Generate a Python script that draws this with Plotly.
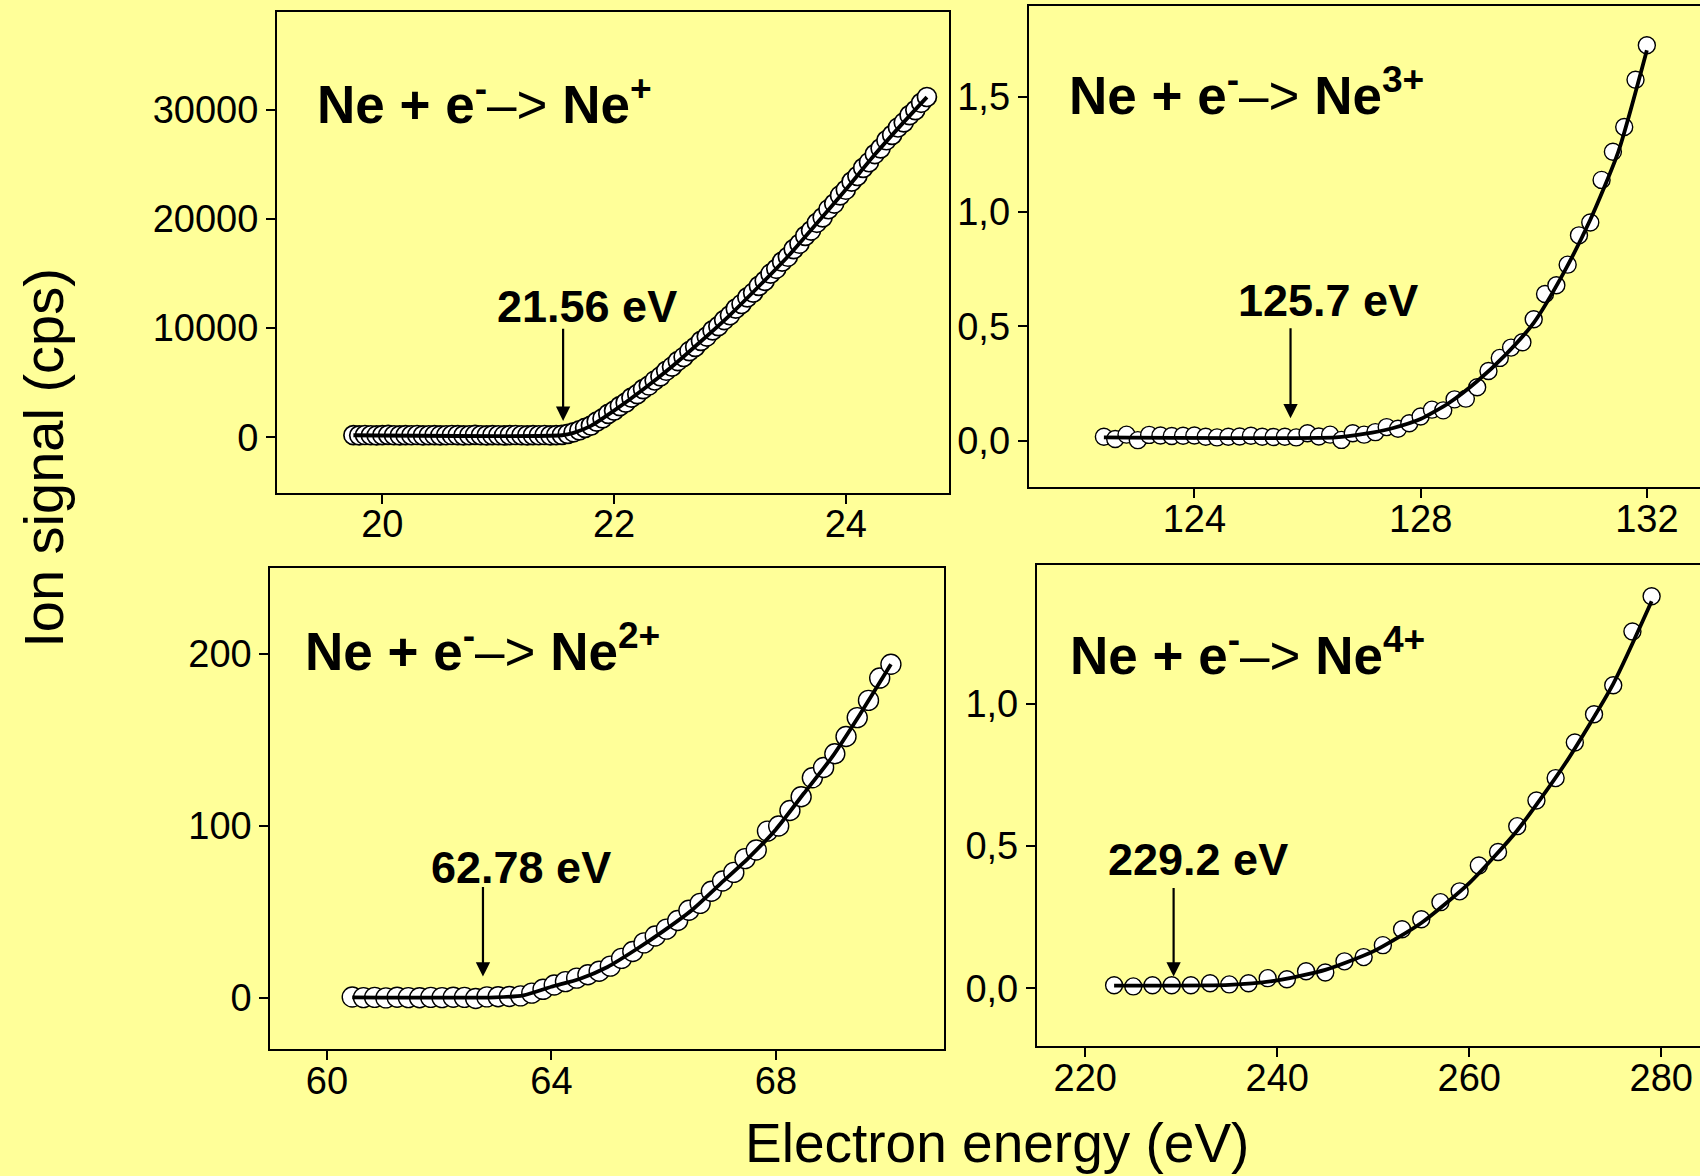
import plotly.graph_objects as go

# ---------------- data ----------------
# Ne + e- -> Ne+
ne1_energy = [19.75, 19.80, 19.85, 19.90, 19.95, 20.00, 20.05, 20.10, 20.15, 20.20,
              20.25, 20.30, 20.35, 20.40, 20.45, 20.50, 20.55, 20.60, 20.65, 20.70,
              20.75, 20.80, 20.85, 20.90, 20.95, 21.00, 21.05, 21.10, 21.15, 21.20,
              21.25, 21.30, 21.35, 21.40, 21.45, 21.50, 21.55, 21.60, 21.65, 21.70,
              21.75, 21.80, 21.85, 21.90, 21.95, 22.00, 22.05, 22.10, 22.15, 22.20,
              22.25, 22.30, 22.35, 22.40, 22.45, 22.50, 22.55, 22.60, 22.65, 22.70,
              22.75, 22.80, 22.85, 22.90, 22.95, 23.00, 23.05, 23.10, 23.15, 23.20,
              23.25, 23.30, 23.35, 23.40, 23.45, 23.50, 23.55, 23.60, 23.65, 23.70,
              23.75, 23.80, 23.85, 23.90, 23.95, 24.00, 24.05, 24.10, 24.15, 24.20,
              24.25, 24.30, 24.35, 24.40, 24.45, 24.50, 24.55, 24.60, 24.65, 24.70]
ne1_signal = [210, 190, 220, 200, 180, 210, 230, 200, 190, 210,
              200, 220, 190, 200, 210, 180, 200, 220, 210, 190,
              200, 230, 200, 190, 210, 200, 180, 210, 220, 200,
              190, 210, 200, 220, 190, 210, 230, 320, 470, 640,
              870, 1080, 1450, 1740, 2150, 2450, 2870, 3180, 3640, 3960,
              4420, 4750, 5210, 5580, 6100, 6470, 6990, 7360, 7890, 8280,
              8830, 9230, 9790, 10180, 10740, 11180, 11780, 12210, 12820, 13240,
              13870, 14330, 14980, 15430, 16080, 16530, 17230, 17720, 18440, 18930,
              19640, 20140, 20880, 21400, 22140, 22660, 23400, 23920, 24660, 25180,
              25930, 26450, 27190, 27680, 28360, 28820, 29490, 29950, 30620, 31150]
ne1_fit_energy = [19.75, 21.55, 21.65, 21.80, 22.00, 22.25, 22.50, 22.75, 23.00,
                  23.25, 23.50, 23.75, 24.00, 24.25, 24.50, 24.70]
ne1_fit_signal = [200, 200, 420, 1060, 2450, 4380, 6490, 8800, 11200,
                  13830, 16560, 19600, 22680, 25880, 28850, 31140]

# Ne + e- -> Ne2+
ne2_energy = [60.45, 60.65, 60.85, 61.05, 61.25, 61.45, 61.65, 61.85, 62.05, 62.25,
              62.45, 62.65, 62.85, 63.05, 63.25, 63.45, 63.65, 63.85, 64.05, 64.25,
              64.45, 64.65, 64.85, 65.05, 65.25, 65.45, 65.65, 65.85, 66.05, 66.25,
              66.45, 66.65, 66.85, 67.05, 67.25, 67.45, 67.65, 67.85, 68.05, 68.25,
              68.45, 68.65, 68.85, 69.05, 69.25, 69.45, 69.65, 69.85, 70.05]
ne2_signal = [0.5, 0.2, 0.3, 0.0, 0.4, 0.2, 0.1, 0.3, 0.2, 0.4,
              0.3, -0.3, 0.6, 0.7, 0.8, 1.2, 2.8, 5.0, 7.5, 9.5,
              11.5, 13.5, 15.5, 18.5, 23.0, 27.0, 32.0, 36.0, 40.0, 45.0,
              51.0, 55.0, 62.0, 68.0, 73.0, 81.0, 86.0, 97.0, 100.0, 109.0,
              117.0, 128.0, 134.0, 142.0, 152.0, 163.0, 173.0, 186.0, 194.0]
ne2_fit_energy = [60.45, 63.0, 63.5, 64.0, 64.5, 65.0, 65.5, 66.0, 66.5, 67.0,
                  67.5, 68.0, 68.5, 69.0, 69.5, 70.05]
ne2_fit_signal = [0.3, 0.3, 1.5, 6.5, 11.0, 18.0, 28.0, 39.0, 51.0, 66.0,
                  81.0, 98.0, 119.0, 140.0, 165.0, 194.0]

# Ne + e- -> Ne3+
ne3_energy = [122.4, 122.6, 122.8, 123.0, 123.2, 123.4, 123.6, 123.8, 124.0, 124.2,
              124.4, 124.6, 124.8, 125.0, 125.2, 125.4, 125.6, 125.8, 126.0, 126.2,
              126.4, 126.6, 126.8, 127.0, 127.2, 127.4, 127.6, 127.8, 128.0, 128.2,
              128.4, 128.6, 128.8, 129.0, 129.2, 129.4, 129.6, 129.8, 130.0, 130.2,
              130.4, 130.6, 130.8, 131.0, 131.2, 131.4, 131.6, 131.8, 132.0]
ne3_signal = [0.018, 0.008, 0.027, 0.003, 0.026, 0.023, 0.021, 0.022, 0.023, 0.018,
              0.015, 0.018, 0.019, 0.022, 0.018, 0.017, 0.018, 0.015, 0.033, 0.019,
              0.027, 0.004, 0.033, 0.027, 0.038, 0.060, 0.053, 0.077, 0.106, 0.136,
              0.133, 0.181, 0.184, 0.234, 0.305, 0.362, 0.407, 0.430, 0.531, 0.641,
              0.679, 0.769, 0.897, 0.953, 1.139, 1.262, 1.370, 1.576, 1.727]
ne3_fit_energy = [122.4, 126.5, 127.0, 127.5, 128.0, 128.5, 129.0, 129.5, 130.0,
                  130.5, 131.0, 131.5, 132.0]
ne3_fit_signal = [0.015, 0.015, 0.030, 0.055, 0.095, 0.165, 0.260, 0.375, 0.515,
                  0.720, 0.965, 1.265, 1.705]

# Ne + e- -> Ne4+
ne4_energy = [223, 225, 227, 229, 231, 233, 235, 237, 239, 241,
              243, 245, 247, 249, 251, 253, 255, 257, 259, 261,
              263, 265, 267, 269, 271, 273, 275, 277, 279]
ne4_signal = [0.011, 0.007, 0.011, 0.011, 0.011, 0.018, 0.014, 0.018, 0.036, 0.032,
              0.060, 0.056, 0.095, 0.110, 0.152, 0.208, 0.243, 0.303, 0.341, 0.432,
              0.479, 0.570, 0.660, 0.739, 0.864, 0.963, 1.065, 1.254, 1.378]
ne4_fit_energy = [223, 235, 240, 245, 250, 255, 260, 265, 270, 275, 279]
ne4_fit_signal = [0.010, 0.012, 0.028, 0.065, 0.130, 0.230, 0.370, 0.555, 0.790,
                  1.070, 1.360]

# appearance thresholds (eV)
thresholds = [21.56, 62.78, 125.7, 229.2]
threshold_labels = ["21.56 eV", "62.78 eV", "125.7 eV", "229.2 eV"]

# tick values / labels
x1_ticks = [20, 22, 24]
y1_ticks = [0, 10000, 20000, 30000]
y1_text = ["0", "10000", "20000", "30000"]
x2_ticks = [124, 128, 132]
y2_ticks = [0.0, 0.5, 1.0, 1.5]
y2_text = ["0,0", "0,5", "1,0", "1,5"]
x3_ticks = [60, 64, 68]
y3_ticks = [0, 100, 200]
x4_ticks = [220, 240, 260, 280]
y4_ticks = [0.0, 0.5, 1.0]
y4_text = ["0,0", "0,5", "1,0"]

# ---------------- styling ----------------
BG = "#FFFF99"
FONT = "Liberation Sans, Arial, Helvetica, sans-serif"
TICK_FONT = dict(family=FONT, size=38, color="black")

fig = go.Figure()


def add_panel(xa, ya, ex, sig, fx, fs, msize, mline):
    fig.add_trace(go.Scatter(
        x=ex, y=sig, mode="markers", xaxis=xa, yaxis=ya,
        marker=dict(symbol="circle", size=msize, color="white",
                    line=dict(color="black", width=mline)),
        showlegend=False, hoverinfo="skip"))
    fig.add_trace(go.Scatter(
        x=fx, y=fs, mode="lines", xaxis=xa, yaxis=ya,
        line=dict(color="black", width=3.8, shape="spline", smoothing=0.6),
        showlegend=False, hoverinfo="skip"))


add_panel("x", "y", ne1_energy, ne1_signal, ne1_fit_energy, ne1_fit_signal, 19, 1.7)
add_panel("x2", "y2", ne3_energy, ne3_signal, ne3_fit_energy, ne3_fit_signal, 17, 1.4)
add_panel("x3", "y3", ne2_energy, ne2_signal, ne2_fit_energy, ne2_fit_signal, 20, 1.4)
add_panel("x4", "y4", ne4_energy, ne4_signal, ne4_fit_energy, ne4_fit_signal, 17, 1.4)


def xaxis(domain, rng, ticks, anchor):
    return dict(domain=domain, range=rng, anchor=anchor, tickvals=ticks,
                ticktext=[str(t) for t in ticks], showline=True, linecolor="black",
                linewidth=2, mirror=True, ticks="outside", ticklen=9, tickwidth=2,
                tickcolor="black", showgrid=False, zeroline=False, tickfont=TICK_FONT,
                ticklabelstandoff=-12)


def yaxis(domain, rng, ticks, text, anchor, mirror):
    return dict(domain=domain, range=rng, anchor=anchor, tickvals=ticks,
                ticktext=text, showline=True, linecolor="black", linewidth=2,
                mirror=mirror, ticks="outside", ticklen=9, tickwidth=2,
                tickcolor="black", showgrid=False, zeroline=False, tickfont=TICK_FONT)


fig.update_layout(
    width=1700, height=1176,
    margin=dict(l=0, r=0, t=0, b=0),
    paper_bgcolor=BG, plot_bgcolor=BG,
    xaxis=xaxis([0.1629, 0.5582], [19.09, 24.89], x1_ticks, "y"),
    yaxis=yaxis([0.5812, 0.9902], [-5040, 38970], y1_ticks, y1_text, "x", True),
    xaxis2=xaxis([0.6051, 1.0], [121.07, 132.94], x2_ticks, "y2"),
    yaxis2=yaxis([0.5856, 0.9947], [-0.203, 1.897], y2_ticks, y2_text, "x2", False),
    xaxis3=xaxis([0.1590, 0.5551], [58.99, 70.99], x3_ticks, "y3"),
    yaxis3=yaxis([0.1080, 0.5170], [-29.7, 250], y3_ticks,
                 [str(t) for t in y3_ticks], "x3", True),
    xaxis4=xaxis([0.6099, 1.0], [214.95, 284.04], x4_ticks, "y4"),
    yaxis4=yaxis([0.1104, 0.5194], [-0.203, 1.487], y4_ticks, y4_text, "x4", False),
)

annotations = []

# reaction titles
reactions = [("+", 0.1853, 0.9145), ("3+", 0.6276, 0.9220),
             ("2+", 0.1782, 0.4498), ("4+", 0.6285, 0.4461)]
for charge, px, py in reactions:
    annotations.append(dict(
        xref="paper", yref="paper", x=px, y=py, xanchor="left", yanchor="middle",
        showarrow=False,
        text=("<b>Ne + e</b><sup><b>-</b></sup>–> <b>Ne</b><sup><b>"
              + charge + "</b></sup>"),
        font=dict(family=FONT, size=53, color="black")))

# threshold arrows: (xref, yref, energy, tail, tip, label x, label y)
arrow_specs = [
    ("x", "y", thresholds[0], 10084, 1512, 21.77, 11976, threshold_labels[0]),
    ("x3", "y3", thresholds[1], 65.4, 12.5, 63.45, 75.8, threshold_labels[1]),
    ("x2", "y2", thresholds[2], 0.498, 0.098, 126.36, 0.612, threshold_labels[2]),
    ("x4", "y4", thresholds[3], 0.358, 0.042, 231.7, 0.453, threshold_labels[3]),
]
for xr, yr, e, tail, tip, lx, ly, lab in arrow_specs:
    annotations.append(dict(
        xref=xr, yref=yr, axref=xr, ayref=yr, x=e, y=tip, ax=e, ay=tail,
        text="", showarrow=True, arrowhead=2, arrowsize=1.3, arrowwidth=2.2,
        arrowcolor="black", standoff=0, startstandoff=0))
    annotations.append(dict(
        xref=xr, yref=yr, x=lx, y=ly, xanchor="center", yanchor="middle",
        showarrow=False, text="<b>" + lab + "</b>",
        font=dict(family=FONT, size=45, color="black")))

# shared axis titles
annotations.append(dict(
    xref="paper", yref="paper", x=0.0255, y=0.611, xanchor="center",
    yanchor="middle", textangle=-90, showarrow=False, text="Ion signal (cps)",
    font=dict(family=FONT, size=56, color="black")))
annotations.append(dict(
    xref="paper", yref="paper", x=0.5865, y=0.0, xanchor="center",
    yanchor="bottom", showarrow=False, text="Electron energy (eV)",
    font=dict(family=FONT, size=55, color="black")))

fig.update_layout(annotations=annotations)

fig.write_html("out.html")
